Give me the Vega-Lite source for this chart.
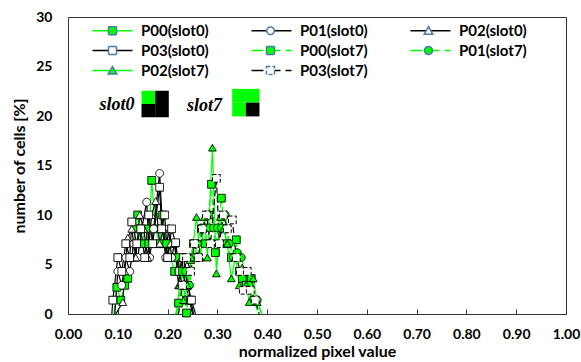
{
  "$schema": "https://vega.github.io/schema/vega-lite/v6.json",
  "width": 498,
  "height": 297,
  "autosize": "none",
  "padding": {"left": 68, "top": 17, "right": 15, "bottom": 48},
  "background": "white",
  "view": {"stroke": "#333333", "strokeWidth": 1},
  "config": {
    "font": "Lato",
    "legend": {
      "orient": "none",
      "direction": "horizontal",
      "legendX": 22,
      "legendY": 6,
      "columns": 3,
      "gridAlign": "all",
      "columnPadding": 39,
      "rowPadding": 4,
      "symbolSize": 100,
      "labelFont": "Lato",
      "labelFontSize": 15,
      "labelFontWeight": "bold",
      "labelColor": "black",
      "labelOffset": 36,
      "title": null
    }
  },
  "datasets": {
    "hist": [
      {"series": "P00(slot0)", "value": 0.092, "pct": 0},
      {"series": "P00(slot0)", "value": 0.098, "pct": 2.7},
      {"series": "P00(slot0)", "value": 0.106, "pct": 1.4},
      {"series": "P00(slot0)", "value": 0.114, "pct": 2.9},
      {"series": "P00(slot0)", "value": 0.120, "pct": 3.6},
      {"series": "P00(slot0)", "value": 0.128, "pct": 5.7},
      {"series": "P00(slot0)", "value": 0.136, "pct": 8.6},
      {"series": "P00(slot0)", "value": 0.140, "pct": 10.0},
      {"series": "P00(slot0)", "value": 0.148, "pct": 7.1},
      {"series": "P00(slot0)", "value": 0.156, "pct": 8.6},
      {"series": "P00(slot0)", "value": 0.162, "pct": 7.1},
      {"series": "P00(slot0)", "value": 0.168, "pct": 13.5},
      {"series": "P00(slot0)", "value": 0.176, "pct": 8.6},
      {"series": "P00(slot0)", "value": 0.184, "pct": 7.1},
      {"series": "P00(slot0)", "value": 0.190, "pct": 10.0},
      {"series": "P00(slot0)", "value": 0.198, "pct": 7.1},
      {"series": "P00(slot0)", "value": 0.206, "pct": 5.7},
      {"series": "P00(slot0)", "value": 0.214, "pct": 4.3},
      {"series": "P00(slot0)", "value": 0.222, "pct": 5.7},
      {"series": "P00(slot0)", "value": 0.230, "pct": 2.9},
      {"series": "P00(slot0)", "value": 0.238, "pct": 1.4},
      {"series": "P00(slot0)", "value": 0.246, "pct": 1.4},
      {"series": "P00(slot0)", "value": 0.252, "pct": 0},

      {"series": "P01(slot0)", "value": 0.094, "pct": 0},
      {"series": "P01(slot0)", "value": 0.100, "pct": 4.3},
      {"series": "P01(slot0)", "value": 0.108, "pct": 2.9},
      {"series": "P01(slot0)", "value": 0.116, "pct": 5.7},
      {"series": "P01(slot0)", "value": 0.124, "pct": 4.3},
      {"series": "P01(slot0)", "value": 0.132, "pct": 7.1},
      {"series": "P01(slot0)", "value": 0.140, "pct": 5.7},
      {"series": "P01(slot0)", "value": 0.148, "pct": 8.6},
      {"series": "P01(slot0)", "value": 0.158, "pct": 11.3},
      {"series": "P01(slot0)", "value": 0.164, "pct": 5.7},
      {"series": "P01(slot0)", "value": 0.172, "pct": 8.6},
      {"series": "P01(slot0)", "value": 0.184, "pct": 14.2},
      {"series": "P01(slot0)", "value": 0.190, "pct": 8.6},
      {"series": "P01(slot0)", "value": 0.196, "pct": 5.7},
      {"series": "P01(slot0)", "value": 0.202, "pct": 8.6},
      {"series": "P01(slot0)", "value": 0.208, "pct": 5.7},
      {"series": "P01(slot0)", "value": 0.214, "pct": 7.1},
      {"series": "P01(slot0)", "value": 0.222, "pct": 4.3},
      {"series": "P01(slot0)", "value": 0.230, "pct": 2.9},
      {"series": "P01(slot0)", "value": 0.238, "pct": 4.3},
      {"series": "P01(slot0)", "value": 0.246, "pct": 1.4},
      {"series": "P01(slot0)", "value": 0.252, "pct": 0},

      {"series": "P02(slot0)", "value": 0.096, "pct": 0},
      {"series": "P02(slot0)", "value": 0.110, "pct": 1.2},
      {"series": "P02(slot0)", "value": 0.114, "pct": 4.3},
      {"series": "P02(slot0)", "value": 0.120, "pct": 7.7},
      {"series": "P02(slot0)", "value": 0.128, "pct": 8.6},
      {"series": "P02(slot0)", "value": 0.136, "pct": 5.7},
      {"series": "P02(slot0)", "value": 0.144, "pct": 10.0},
      {"series": "P02(slot0)", "value": 0.152, "pct": 8.6},
      {"series": "P02(slot0)", "value": 0.160, "pct": 5.7},
      {"series": "P02(slot0)", "value": 0.168, "pct": 10.0},
      {"series": "P02(slot0)", "value": 0.176, "pct": 11.4},
      {"series": "P02(slot0)", "value": 0.184, "pct": 7.1},
      {"series": "P02(slot0)", "value": 0.192, "pct": 8.6},
      {"series": "P02(slot0)", "value": 0.198, "pct": 5.7},
      {"series": "P02(slot0)", "value": 0.206, "pct": 7.1},
      {"series": "P02(slot0)", "value": 0.214, "pct": 7.1},
      {"series": "P02(slot0)", "value": 0.222, "pct": 2.9},
      {"series": "P02(slot0)", "value": 0.228, "pct": 5.7},
      {"series": "P02(slot0)", "value": 0.236, "pct": 2.9},
      {"series": "P02(slot0)", "value": 0.244, "pct": 1.4},
      {"series": "P02(slot0)", "value": 0.250, "pct": 0},

      {"series": "P03(slot0)", "value": 0.088, "pct": 0},
      {"series": "P03(slot0)", "value": 0.090, "pct": 1.4},
      {"series": "P03(slot0)", "value": 0.100, "pct": 5.7},
      {"series": "P03(slot0)", "value": 0.108, "pct": 4.3},
      {"series": "P03(slot0)", "value": 0.116, "pct": 7.1},
      {"series": "P03(slot0)", "value": 0.124, "pct": 5.7},
      {"series": "P03(slot0)", "value": 0.128, "pct": 9.3},
      {"series": "P03(slot0)", "value": 0.138, "pct": 7.1},
      {"series": "P03(slot0)", "value": 0.146, "pct": 8.6},
      {"series": "P03(slot0)", "value": 0.154, "pct": 5.7},
      {"series": "P03(slot0)", "value": 0.162, "pct": 10.0},
      {"series": "P03(slot0)", "value": 0.170, "pct": 7.1},
      {"series": "P03(slot0)", "value": 0.184, "pct": 12.8},
      {"series": "P03(slot0)", "value": 0.188, "pct": 8.6},
      {"series": "P03(slot0)", "value": 0.194, "pct": 10.0},
      {"series": "P03(slot0)", "value": 0.200, "pct": 5.7},
      {"series": "P03(slot0)", "value": 0.208, "pct": 8.6},
      {"series": "P03(slot0)", "value": 0.216, "pct": 7.2},
      {"series": "P03(slot0)", "value": 0.224, "pct": 4.3},
      {"series": "P03(slot0)", "value": 0.232, "pct": 5.7},
      {"series": "P03(slot0)", "value": 0.240, "pct": 2.9},
      {"series": "P03(slot0)", "value": 0.248, "pct": 1.4},
      {"series": "P03(slot0)", "value": 0.256, "pct": 0},

      {"series": "P00(slot7)", "value": 0.216, "pct": 0},
      {"series": "P00(slot7)", "value": 0.222, "pct": 1.1},
      {"series": "P00(slot7)", "value": 0.230, "pct": 4.3},
      {"series": "P00(slot7)", "value": 0.238, "pct": 0.1},
      {"series": "P00(slot7)", "value": 0.246, "pct": 5.5},
      {"series": "P00(slot7)", "value": 0.252, "pct": 7.1},
      {"series": "P00(slot7)", "value": 0.260, "pct": 5.7},
      {"series": "P00(slot7)", "value": 0.268, "pct": 8.6},
      {"series": "P00(slot7)", "value": 0.276, "pct": 7.1},
      {"series": "P00(slot7)", "value": 0.282, "pct": 10.0},
      {"series": "P00(slot7)", "value": 0.288, "pct": 13.1},
      {"series": "P00(slot7)", "value": 0.296, "pct": 6.2},
      {"series": "P00(slot7)", "value": 0.308, "pct": 11.7},
      {"series": "P00(slot7)", "value": 0.314, "pct": 8.6},
      {"series": "P00(slot7)", "value": 0.320, "pct": 7.1},
      {"series": "P00(slot7)", "value": 0.328, "pct": 5.7},
      {"series": "P00(slot7)", "value": 0.338, "pct": 7.5},
      {"series": "P00(slot7)", "value": 0.344, "pct": 4.3},
      {"series": "P00(slot7)", "value": 0.350, "pct": 3.6},
      {"series": "P00(slot7)", "value": 0.358, "pct": 2.9},
      {"series": "P00(slot7)", "value": 0.368, "pct": 3.6},
      {"series": "P00(slot7)", "value": 0.374, "pct": 1.4},
      {"series": "P00(slot7)", "value": 0.382, "pct": 0},

      {"series": "P01(slot7)", "value": 0.220, "pct": 0},
      {"series": "P01(slot7)", "value": 0.228, "pct": 2.9},
      {"series": "P01(slot7)", "value": 0.236, "pct": 4.3},
      {"series": "P01(slot7)", "value": 0.244, "pct": 2.9},
      {"series": "P01(slot7)", "value": 0.252, "pct": 5.7},
      {"series": "P01(slot7)", "value": 0.260, "pct": 7.1},
      {"series": "P01(slot7)", "value": 0.268, "pct": 8.7},
      {"series": "P01(slot7)", "value": 0.276, "pct": 8.7},
      {"series": "P01(slot7)", "value": 0.284, "pct": 8.7},
      {"series": "P01(slot7)", "value": 0.292, "pct": 8.7},
      {"series": "P01(slot7)", "value": 0.300, "pct": 8.7},
      {"series": "P01(slot7)", "value": 0.308, "pct": 8.7},
      {"series": "P01(slot7)", "value": 0.316, "pct": 10.0},
      {"series": "P01(slot7)", "value": 0.324, "pct": 7.1},
      {"series": "P01(slot7)", "value": 0.332, "pct": 5.7},
      {"series": "P01(slot7)", "value": 0.340, "pct": 6.2},
      {"series": "P01(slot7)", "value": 0.348, "pct": 5.7},
      {"series": "P01(slot7)", "value": 0.356, "pct": 4.3},
      {"series": "P01(slot7)", "value": 0.364, "pct": 2.9},
      {"series": "P01(slot7)", "value": 0.372, "pct": 1.4},
      {"series": "P01(slot7)", "value": 0.380, "pct": 1.4},
      {"series": "P01(slot7)", "value": 0.388, "pct": 0},

      {"series": "P02(slot7)", "value": 0.218, "pct": 0},
      {"series": "P02(slot7)", "value": 0.224, "pct": 2.9},
      {"series": "P02(slot7)", "value": 0.232, "pct": 1.4},
      {"series": "P02(slot7)", "value": 0.240, "pct": 2.9},
      {"series": "P02(slot7)", "value": 0.248, "pct": 5.7},
      {"series": "P02(slot7)", "value": 0.258, "pct": 9.8},
      {"series": "P02(slot7)", "value": 0.266, "pct": 5.7},
      {"series": "P02(slot7)", "value": 0.274, "pct": 9.8},
      {"series": "P02(slot7)", "value": 0.280, "pct": 5.7},
      {"series": "P02(slot7)", "value": 0.290, "pct": 16.8},
      {"series": "P02(slot7)", "value": 0.298, "pct": 4.1},
      {"series": "P02(slot7)", "value": 0.306, "pct": 9.8},
      {"series": "P02(slot7)", "value": 0.312, "pct": 8.6},
      {"series": "P02(slot7)", "value": 0.320, "pct": 7.1},
      {"series": "P02(slot7)", "value": 0.328, "pct": 3.6},
      {"series": "P02(slot7)", "value": 0.336, "pct": 5.7},
      {"series": "P02(slot7)", "value": 0.344, "pct": 2.9},
      {"series": "P02(slot7)", "value": 0.350, "pct": 4.7},
      {"series": "P02(slot7)", "value": 0.358, "pct": 2.9},
      {"series": "P02(slot7)", "value": 0.364, "pct": 1.2},
      {"series": "P02(slot7)", "value": 0.372, "pct": 3.6},
      {"series": "P02(slot7)", "value": 0.380, "pct": 1.2},
      {"series": "P02(slot7)", "value": 0.390, "pct": 0},

      {"series": "P03(slot7)", "value": 0.222, "pct": 0},
      {"series": "P03(slot7)", "value": 0.230, "pct": 2.9},
      {"series": "P03(slot7)", "value": 0.238, "pct": 5.7},
      {"series": "P03(slot7)", "value": 0.246, "pct": 4.3},
      {"series": "P03(slot7)", "value": 0.254, "pct": 7.1},
      {"series": "P03(slot7)", "value": 0.262, "pct": 5.7},
      {"series": "P03(slot7)", "value": 0.270, "pct": 8.6},
      {"series": "P03(slot7)", "value": 0.278, "pct": 10.0},
      {"series": "P03(slot7)", "value": 0.286, "pct": 7.1},
      {"series": "P03(slot7)", "value": 0.298, "pct": 13.7},
      {"series": "P03(slot7)", "value": 0.304, "pct": 7.1},
      {"series": "P03(slot7)", "value": 0.312, "pct": 10.0},
      {"series": "P03(slot7)", "value": 0.320, "pct": 8.6},
      {"series": "P03(slot7)", "value": 0.330, "pct": 9.5},
      {"series": "P03(slot7)", "value": 0.338, "pct": 5.7},
      {"series": "P03(slot7)", "value": 0.346, "pct": 4.3},
      {"series": "P03(slot7)", "value": 0.352, "pct": 2.4},
      {"series": "P03(slot7)", "value": 0.360, "pct": 4.3},
      {"series": "P03(slot7)", "value": 0.366, "pct": 2.4},
      {"series": "P03(slot7)", "value": 0.376, "pct": 1.4},
      {"series": "P03(slot7)", "value": 0.384, "pct": 0}
    ],
    "notes": [
      {"label": "slot0", "value": 0.0984, "pct": 20.6},
      {"label": "slot7", "value": 0.274, "pct": 20.5}
    ],
    "cells": [
      {"icon": "slot0", "x0": 0.1476, "x1": 0.175, "y0": 21.21, "y1": 22.55, "state": "lit"},
      {"icon": "slot0", "x0": 0.175, "x1": 0.2024, "y0": 21.21, "y1": 22.55, "state": "dark"},
      {"icon": "slot0", "x0": 0.1476, "x1": 0.175, "y0": 19.87, "y1": 21.21, "state": "dark"},
      {"icon": "slot0", "x0": 0.175, "x1": 0.2024, "y0": 19.87, "y1": 21.21, "state": "dark"},
      {"icon": "slot7", "x0": 0.3297, "x1": 0.3571, "y0": 21.35, "y1": 22.74, "state": "lit"},
      {"icon": "slot7", "x0": 0.3571, "x1": 0.3845, "y0": 21.35, "y1": 22.74, "state": "lit"},
      {"icon": "slot7", "x0": 0.3297, "x1": 0.3571, "y0": 19.96, "y1": 21.35, "state": "lit"},
      {"icon": "slot7", "x0": 0.3571, "x1": 0.3845, "y0": 19.96, "y1": 21.35, "state": "dark"}
    ]
  },
  "resolve": {
    "scale": {
      "color": "independent",
      "shape": "independent",
      "fill": "independent",
      "stroke": "independent",
      "strokeDash": "independent"
    }
  },
  "layer": [
    {
      "data": {"name": "hist"},
      "mark": {"type": "line", "strokeWidth": 1.2},
      "encoding": {
        "x": {
          "field": "value", "type": "quantitative",
          "scale": {"domain": [0, 1], "nice": false},
          "axis": {
            "values": [0, 0.1, 0.2, 0.3, 0.4, 0.5, 0.6, 0.7, 0.8, 0.9, 1.0],
            "format": ".2f",
            "grid": false,
            "domain": false,
            "ticks": true,
            "tickSize": -5,
            "tickColor": "#333333",
            "labelPadding": 18,
            "labelFont": "Lato",
            "labelFontSize": 14,
            "labelFontWeight": "bold",
            "labelColor": "black",
            "labelFlush": false,
            "title": "normalized pixel value",
            "titleFont": "Lato",
            "titleFontSize": 16,
            "titleFontWeight": "bold",
            "titleColor": "black",
            "titlePadding": 2
          }
        },
        "y": {
          "field": "pct", "type": "quantitative",
          "scale": {"domain": [0, 30], "nice": false},
          "axis": {
            "values": [0, 5, 10, 15, 20, 25, 30],
            "grid": false,
            "domain": false,
            "ticks": false,
            "labelPadding": 16,
            "labelFont": "Lato",
            "labelFontSize": 14,
            "labelFontWeight": "bold",
            "labelColor": "black",
            "labelFlush": false,
            "title": "number of cells [%]",
            "titleFont": "Lato",
            "titleFontSize": 16,
            "titleFontWeight": "bold",
            "titleColor": "black",
            "titlePadding": 8
          }
        },
        "color": {
          "field": "series", "type": "nominal",
          "scale": {
            "domain": ["P00(slot0)", "P01(slot0)", "P02(slot0)", "P03(slot0)", "P00(slot7)", "P01(slot7)", "P02(slot7)", "P03(slot7)"],
            "range": ["#00ff00", "black", "black", "black", "#00ff00", "#00ff00", "#00ff00", "black"]
          },
          "legend": null
        },
        "strokeDash": {
          "field": "series", "type": "nominal",
          "scale": {
            "domain": ["P00(slot0)", "P01(slot0)", "P02(slot0)", "P03(slot0)", "P00(slot7)", "P01(slot7)", "P02(slot7)", "P03(slot7)"],
            "range": [[1, 0], [1, 0], [1, 0], [1, 0], [6, 3], [6, 3], [1, 0], [6, 3]]
          },
          "legend": null
        }
      }
    },
    {
      "data": {"name": "hist"},
      "transform": [{"filter": "datum.pct > 0"}],
      "mark": {"type": "point", "filled": false, "stroke": "black", "strokeWidth": 1, "size": 60, "opacity": 1},
      "encoding": {
        "x": {"field": "value", "type": "quantitative"},
        "y": {"field": "pct", "type": "quantitative"},
        "shape": {
          "field": "series", "type": "nominal",
          "scale": {
            "domain": ["P00(slot0)", "P01(slot0)", "P02(slot0)", "P03(slot0)", "P00(slot7)", "P01(slot7)", "P02(slot7)", "P03(slot7)"],
            "range": ["square", "circle", "triangle-up", "square", "square", "circle", "triangle-up", "square"]
          },
          "legend": null
        },
        "fill": {
          "field": "series", "type": "nominal",
          "scale": {
            "domain": ["P00(slot0)", "P01(slot0)", "P02(slot0)", "P03(slot0)", "P00(slot7)", "P01(slot7)", "P02(slot7)", "P03(slot7)"],
            "range": ["#00ff00", "white", "white", "white", "#00ff00", "#00ff00", "#00ff00", "white"]
          },
          "legend": null
        },
        "strokeDash": {
          "field": "series", "type": "nominal",
          "scale": {
            "domain": ["P00(slot0)", "P01(slot0)", "P02(slot0)", "P03(slot0)", "P00(slot7)", "P01(slot7)", "P02(slot7)", "P03(slot7)"],
            "range": [[1, 0], [1, 0], [1, 0], [1, 0], [1, 0], [1, 0], [1, 0], [4, 2]]
          },
          "legend": null
        }
      }
    },
    {
      "data": {"name": "hist"},
      "transform": [{"filter": "false"}],
      "mark": {"type": "point", "filled": false, "strokeWidth": 1.5, "opacity": 1},
      "encoding": {
        "shape": {
          "field": "series", "type": "nominal",
          "scale": {
            "domain": ["P00(slot0)", "P01(slot0)", "P02(slot0)", "P03(slot0)", "P00(slot7)", "P01(slot7)", "P02(slot7)", "P03(slot7)"],
            "range": ["M-1,0H7", "M-1,0H7", "M-1,0H7", "M-1,0H7", "M-1,0H7", "M-1,0H7", "M-1,0H7", "M-1,0H7"]
          },
          "legend": {"symbolStrokeWidth": 1.5}
        },
        "stroke": {
          "field": "series", "type": "nominal",
          "scale": {
            "domain": ["P00(slot0)", "P01(slot0)", "P02(slot0)", "P03(slot0)", "P00(slot7)", "P01(slot7)", "P02(slot7)", "P03(slot7)"],
            "range": ["#00ff00", "black", "black", "black", "#00ff00", "#00ff00", "#00ff00", "black"]
          }
        },
        "strokeDash": {
          "field": "series", "type": "nominal",
          "scale": {
            "domain": ["P00(slot0)", "P01(slot0)", "P02(slot0)", "P03(slot0)", "P00(slot7)", "P01(slot7)", "P02(slot7)", "P03(slot7)"],
            "range": [[1, 0], [1, 0], [1, 0], [1, 0], [12, 5], [12, 5], [1, 0], [12, 5]]
          }
        }
      }
    },
    {
      "data": {"name": "hist"},
      "transform": [{"filter": "false"}],
      "mark": {"type": "point", "filled": false, "strokeWidth": 1, "opacity": 1},
      "encoding": {
        "shape": {
          "field": "series", "type": "nominal",
          "scale": {
            "domain": ["P00(slot0)", "P01(slot0)", "P02(slot0)", "P03(slot0)", "P00(slot7)", "P01(slot7)", "P02(slot7)", "P03(slot7)"],
            "range": [
              "M2.2,-0.8H3.8V0.8H2.2Z",
              "M3.75,0A0.75,0.75,0,1,1,2.25,0A0.75,0.75,0,1,1,3.75,0Z",
              "M3,-0.8L3.85,0.7H2.15Z",
              "M2.2,-0.8H3.8V0.8H2.2Z",
              "M2.2,-0.8H3.8V0.8H2.2Z",
              "M3.8,0A0.8,0.8,0,1,1,2.2,0A0.8,0.8,0,1,1,3.8,0Z",
              "M3,-0.8L3.85,0.7H2.15Z",
              "M2.2,-0.8H3.8V0.8H2.2Z"
            ]
          },
          "legend": {
            "labelOpacity": 0,
            "encode": {"symbols": {"update": {"stroke": {"value": "black"}, "strokeWidth": {"value": 1}}}}
          }
        },
        "fill": {
          "field": "series", "type": "nominal",
          "scale": {
            "domain": ["P00(slot0)", "P01(slot0)", "P02(slot0)", "P03(slot0)", "P00(slot7)", "P01(slot7)", "P02(slot7)", "P03(slot7)"],
            "range": ["#00ff00", "white", "white", "white", "#00ff00", "#00ff00", "#00ff00", "white"]
          }
        },
        "strokeDash": {
          "field": "series", "type": "nominal",
          "scale": {
            "domain": ["P00(slot0)", "P01(slot0)", "P02(slot0)", "P03(slot0)", "P00(slot7)", "P01(slot7)", "P02(slot7)", "P03(slot7)"],
            "range": [[1, 0], [1, 0], [1, 0], [1, 0], [1, 0], [1, 0], [1, 0], [4, 2]]
          }
        }
      }
    },
    {
      "data": {"name": "cells"},
      "mark": {"type": "rect", "strokeWidth": 0},
      "encoding": {
        "x": {"field": "x0", "type": "quantitative"},
        "x2": {"field": "x1"},
        "y": {"field": "y0", "type": "quantitative"},
        "y2": {"field": "y1"},
        "color": {
          "field": "state", "type": "nominal",
          "scale": {"domain": ["lit", "dark"], "range": ["#00ff00", "black"]},
          "legend": null
        }
      }
    },
    {
      "data": {"name": "notes"},
      "mark": {"type": "text", "font": "Liberation Serif", "fontSize": 18, "fontWeight": "bold", "fontStyle": "italic", "color": "black", "align": "center", "baseline": "alphabetic"},
      "encoding": {
        "x": {"field": "value", "type": "quantitative"},
        "y": {"field": "pct", "type": "quantitative"},
        "text": {"field": "label"}
      }
    }
  ]
}
